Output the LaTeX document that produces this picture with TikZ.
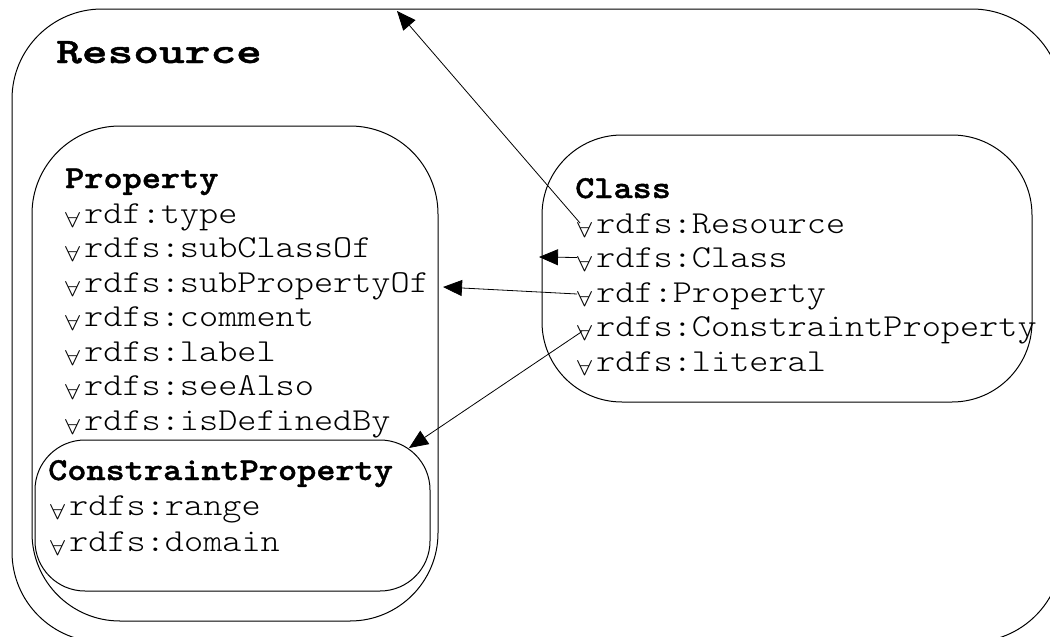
\documentclass[tikz,border=0pt]{standalone}
\usepackage{fontspec}
\usepackage{graphicx}
\usetikzlibrary{arrows.meta}
\newfontfamily\ttreg{lmmonolt10-regular}[Extension=.otf, FakeStretch=1.14]
\newfontfamily\ttbld{lmmonolt10-bold}[Extension=.otf, FakeStretch=1.14, FakeBold=1.2]
\newfontfamily\ttres{lmmonolt10-bold}[Extension=.otf, FakeStretch=1.36, FakeBold=1.2]
\newcommand\fa{\makebox[19pt][l]{\raisebox{-4pt}{\resizebox{15pt}{15pt}{$\forall$}}}}
\tikzset{
  box/.style={draw, line width=1pt, inner sep=0pt},
  itm/.style={anchor=base west, inner sep=0pt, font=\ttreg\fontsize{32}{32}\selectfont},
  hdr/.style={anchor=base west, inner sep=0pt, font=\ttbld\fontsize{32}{32}\selectfont},
  arr/.style={line width=0.8pt, -{Triangle[length=19pt,width=16pt]}}
}
\begin{document}
\begin{tikzpicture}[x=1pt,y=-1pt]
\useasboundingbox (0,0) rectangle (1050,637);
% boxes
\node[box, rounded corners=90pt, minimum width=1050pt, minimum height=633pt] (res) at (537,325.5) {};
\node[box, rounded corners=88pt, minimum width=406pt, minimum height=495pt] (prop) at (235,373.5) {};
\node[box, rounded corners=50pt, minimum width=395pt, minimum height=151pt] (cp) at (232.5,515.5) {};
\node[box, rounded corners=80pt, minimum width=490pt, minimum height=267pt] (cls) at (787,268.5) {};
% Resource title
\node[anchor=base west, inner sep=0pt, font=\ttres\fontsize{36}{36}\selectfont] (resT) at (56,63) {Resource};
% Property
\node[hdr] (pT) at (65,188) {Property};
\node[itm] (p1) at (65,223) {\fa rdf:type};
\node[itm] (p2) at (65,257.5) {\fa rdfs:subClassOf};
\node[itm] (p3) at (65,292) {\fa rdfs:subPropertyOf};
\node[itm] (p4) at (65,326.5) {\fa rdfs:comment};
\node[itm] (p5) at (65,361) {\fa rdfs:label};
\node[itm] (p6) at (65,395.5) {\fa rdfs:seeAlso};
\node[itm] (p7) at (65,430) {\fa rdfs:isDefinedBy};
% ConstraintProperty
\node[hdr] (cpT) at (48,480) {ConstraintProperty};
\node[itm] (cp1) at (50,515.5) {\fa rdfs:range};
\node[itm] (cp2) at (50,551) {\fa rdfs:domain};
% Class
\node[hdr] (cT) at (575,198) {Class};
\node[itm] (cRes) at (577,233) {\fa rdfs:Resource};
\node[itm] (cClass) at (577,267.5) {\fa rdfs:Class};
\node[itm] (cProp) at (577,302) {\fa rdf:Property};
\node[itm] (cCP) at (577,336.5) {\fa rdfs:ConstraintProperty};
\node[itm] (cLit) at (577,371) {\fa rdfs:literal};
% arrow ends
\coordinate (t1) at (397,11);
\coordinate (t2) at (539,257);
\coordinate (t3) at (443,287);
\coordinate (t4) at (409,448);
\draw[arr] ([xshift=3pt,yshift=10pt]cRes.base west) -- (t1);
\draw[arr] ([yshift=10pt]cClass.base west) -- (t2);
\draw[arr] ([yshift=8pt]cProp.base west) -- (t3);
\draw[arr] ([xshift=5pt,yshift=5pt]cCP.base west) -- (t4);
\end{tikzpicture}
\end{document}
